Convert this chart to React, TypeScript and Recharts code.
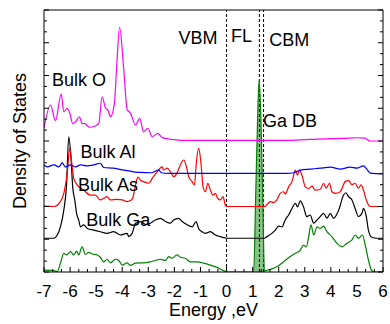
import React from 'react';
import {
  ComposedChart,
  Line,
  Area,
  XAxis,
  YAxis,
  ReferenceLine,
  ReferenceDot,
} from 'recharts';

// ---------- data ----------
const energyO = [-7.0, -6.75, -6.56, -6.34, -6.24, -6.11, -6.01, -5.9, -5.79, -5.64, -5.54, -5.44, -5.26, -5.03, -4.9, -4.77, -4.64, -4.54, -4.45, -4.3, -4.22, -4.1, -3.94, -3.81, -3.69, -3.49, -3.33, -3.18, -3.02, -2.85, -2.64, -2.47, -2.28, -2.0, -1.77, 2.5, 3.0, 3.5, 4.0, 4.5, 5.0, 5.3, 5.5, 6.0];
const dosO = [4.39, 5.1, 4.62, 5.43, 4.89, 5.0, 4.85, 4.53, 4.59, 4.74, 4.53, 4.54, 4.42, 4.46, 4.54, 5.35, 5.0, 4.93, 4.74, 5.15, 6.17, 7.47, 6.17, 4.95, 4.86, 4.49, 4.69, 4.28, 4.39, 4.13, 4.23, 4.11, 4.07, 4.04, 4.02, 4.02, 4.04, 4.06, 4.07, 4.08, 4.1, 4.09, 4.0, 4.0];

const energyAl = [-7.0, -6.88, -6.62, -6.43, -6.3, -6.18, -5.98, -5.79, -5.6, -5.34, -5.09, -4.84, -4.71, -4.33, -3.94, -3.56, -3.3, -2.9, -2.6, -2.5, -2.2, 2.3, 2.57, 2.83, 3.21, 3.59, 3.98, 4.36, 4.74, 5.0, 5.25, 5.38, 5.51, 6.0];
const dosAl = [3.27, 3.21, 3.27, 3.21, 3.33, 3.21, 3.27, 3.21, 3.27, 3.24, 3.27, 3.32, 3.19, 3.17, 3.11, 3.06, 3.04, 3.03, 3.11, 3.03, 3.01, 3.01, 3.03, 3.11, 3.14, 3.17, 3.2, 3.14, 3.2, 3.17, 3.24, 3.14, 3.02, 3.0];

const energyAs = [-7.0, -6.62, -6.37, -6.24, -6.11, -6.01, -5.92, -5.86, -5.73, -5.48, -5.22, -5.03, -4.84, -4.71, -4.58, -4.45, -4.2, -4.0, -3.81, -3.69, -3.6, -3.5, -3.4, -3.3, -3.18, -2.98, -2.85, -2.66, -2.47, -2.41, -2.28, -2.15, -2.03, -1.9, -1.77, -1.64, -1.54, -1.45, -1.32, -1.23, -1.16, -1.07, -0.98, -0.9, -0.81, -0.72, -0.62, -0.52, -0.43, -0.34, -0.24, -0.13, -0.05, 0.02, 1.49, 1.55, 1.68, 1.81, 1.93, 2.06, 2.19, 2.25, 2.38, 2.51, 2.64, 2.72, 2.8, 2.89, 3.02, 3.15, 3.28, 3.4, 3.59, 3.72, 3.82, 3.95, 4.04, 4.17, 4.36, 4.55, 4.68, 4.81, 4.93, 5.06, 5.16, 5.25, 5.38, 5.51, 6.0];
const dosAs = [2.01, 2.0, 2.15, 2.4, 3.02, 3.78, 3.22, 2.86, 2.66, 2.5, 2.35, 2.35, 2.2, 2.25, 2.3, 2.2, 2.22, 2.2, 2.15, 2.18, 2.25, 2.62, 2.9, 2.8, 2.76, 2.71, 2.86, 3.06, 3.21, 3.11, 3.17, 3.06, 2.91, 3.02, 3.27, 3.42, 3.22, 2.91, 2.76, 2.66, 3.32, 3.78, 3.32, 2.6, 2.45, 2.71, 2.5, 2.35, 2.4, 2.25, 2.2, 2.3, 2.05, 2.0, 2.0, 2.06, 2.15, 2.12, 2.2, 2.4, 2.45, 2.38, 2.6, 2.76, 3.11, 2.96, 3.11, 2.96, 2.6, 2.55, 2.62, 2.5, 2.52, 2.71, 2.56, 2.71, 2.45, 2.4, 2.45, 2.76, 2.79, 2.66, 2.71, 2.56, 2.66, 2.5, 2.15, 2.0, 2.0];

const energyGa = [-7.0, -6.62, -6.49, -6.37, -6.24, -6.14, -6.05, -5.96, -5.9, -5.82, -5.75, -5.67, -5.6, -5.48, -5.34, -5.09, -4.84, -4.58, -4.33, -4.07, -3.81, -3.75, -3.62, -3.49, -3.3, -3.1, -2.92, -2.73, -2.54, -2.34, -2.15, -2.03, -1.84, -1.7, -1.51, -1.32, -1.17, -1.07, -0.94, -0.81, -0.62, -0.43, -0.24, -0.05, 0.05, 1.45, 1.55, 1.74, 1.87, 2.0, 2.13, 2.25, 2.38, 2.51, 2.64, 2.72, 2.83, 2.95, 3.08, 3.21, 3.34, 3.47, 3.59, 3.72, 3.85, 3.98, 4.1, 4.3, 4.49, 4.58, 4.68, 4.81, 4.93, 5.06, 5.19, 5.25, 5.36, 5.44, 5.57, 5.76, 6.0];
const dosGa = [1.03, 1.03, 1.13, 1.38, 1.89, 2.6, 4.13, 3.42, 2.6, 2.2, 1.79, 1.59, 1.38, 1.44, 1.33, 1.28, 1.23, 1.18, 1.23, 1.13, 1.18, 1.08, 1.18, 1.49, 1.54, 1.45, 1.49, 1.59, 1.64, 1.54, 1.49, 1.59, 1.64, 1.54, 1.44, 1.38, 1.54, 1.33, 1.23, 1.18, 1.23, 1.13, 1.08, 1.04, 1.03, 1.03, 1.08, 1.18, 1.28, 1.4, 1.38, 1.59, 1.74, 1.94, 2.1, 1.99, 2.17, 1.99, 1.69, 1.74, 1.49, 1.59, 1.69, 1.79, 1.64, 1.79, 1.64, 1.89, 2.35, 2.42, 2.3, 2.2, 1.94, 1.69, 1.79, 1.94, 1.69, 1.28, 1.06, 1.03, 1.03];

const energyGreen = [-7.0, -6.62, -6.49, -6.37, -6.24, -6.14, -5.98, -5.86, -5.75, -5.67, -5.54, -5.41, -5.28, -5.15, -4.96, -4.84, -4.71, -4.58, -4.45, -4.26, -4.13, -4.0, -3.81, -3.69, -3.49, -3.3, -3.18, -2.92, -2.73, -2.54, -2.34, -2.22, -2.09, -1.9, -1.77, -1.58, -1.39, -1.13, -0.88, -0.62, -0.36, -0.17, -0.05, 0.0, 1.0, 1.04, 1.12, 1.19, 1.25, 1.32, 1.39, 1.45, 1.49, 1.68, 1.93, 2.19, 2.44, 2.64, 2.83, 2.95, 3.06, 3.15, 3.24, 3.34, 3.47, 3.59, 3.72, 3.85, 4.04, 4.23, 4.43, 4.62, 4.81, 4.93, 5.06, 5.21, 5.32, 5.44, 5.57, 5.7, 6.0];
const dosGreen = [0.06, 0.04, 0.01, 0.27, 0.57, 0.52, 0.62, 0.52, 0.64, 0.52, 0.77, 0.54, 0.6, 0.55, 0.52, 0.45, 0.31, 0.39, 0.28, 0.39, 0.35, 0.21, 0.28, 0.2, 0.27, 0.28, 0.28, 0.31, 0.35, 0.39, 0.35, 0.47, 0.42, 0.52, 0.45, 0.42, 0.31, 0.31, 0.27, 0.21, 0.14, 0.06, 0.02, 0.0, 0.0, 0.0, 2.4, 4.64, 5.86, 4.64, 2.2, 0.02, 0.04, 0.08, 0.16, 0.31, 0.47, 0.57, 0.67, 0.82, 0.77, 1.08, 1.44, 1.13, 1.38, 1.33, 1.4, 1.23, 1.08, 0.88, 0.77, 0.88, 0.98, 1.13, 1.03, 1.13, 0.82, 0.37, 0.04, 0.0, 0.0];

const energyGaDb = [1.04, 1.12, 1.19, 1.25, 1.32, 1.39, 1.45];
const dosGaDb = [0.0, 2.4, 4.64, 5.86, 4.64, 2.2, 0.02];

const levelNames = ['VBM', 'FL', 'CBM'];
const levelEnergies = [0, 1.26, 1.42];

const annotations = [
  { text: 'Bulk O', e: -6.69, v: 5.69 },
  { text: 'Bulk Al', e: -5.6, v: 3.47 },
  { text: 'Bulk As', e: -5.7, v: 2.48 },
  { text: 'Bulk Ga', e: -5.38, v: 1.4 },
  { text: 'VBM', e: -1.84, v: 6.96 },
  { text: 'FL', e: 0.17, v: 7.01 },
  { text: 'CBM', e: 1.64, v: 6.91 },
  { text: 'Ga DB', e: 1.4, v: 4.44 },
];

const xMajorTicks = [-7, -6, -5, -4, -3, -2, -1, 0, 1, 2, 3, 4, 5, 6];
const yMajorTicks = [0, 1, 2, 3, 4, 5, 6, 7, 8];
const xTicks = xMajorTicks.flatMap((t, i) => (i < xMajorTicks.length - 1 ? [t, t + 1 / 3, t + 2 / 3] : [t]));
const yTicks = yMajorTicks.flatMap((t, i) => (i < yMajorTicks.length - 1 ? [t, t + 1 / 3, t + 2 / 3] : [t]));

const toPoints = (es: number[], vs: number[]) => es.map((e, i) => ({ e, v: vs[i] }));

const FONT = '"Liberation Sans", Arial, Helvetica, sans-serif';
const isMajor = (v: number) => Math.abs(v - Math.round(v)) < 1e-6;

const BottomTick = (p: any) => {
  const { x, y, payload } = p;
  const major = isMajor(payload.value);
  return (
    <g>
      <line x1={x} x2={x} y1={y} y2={y - (major ? 5 : 3)} stroke="#000" strokeWidth={1} />
      {major && (
        <text x={x} y={y + 25} textAnchor="middle" fontSize={17} fontFamily={FONT} fill="#000">
          {Math.round(payload.value)}
        </text>
      )}
    </g>
  );
};
const TopTick = (p: any) => {
  const { x, y, payload } = p;
  const major = isMajor(payload.value);
  return <line x1={x} x2={x} y1={y} y2={y + (major ? 5 : 3)} stroke="#000" strokeWidth={1} />;
};
const LeftTick = (p: any) => {
  const { x, y, payload } = p;
  const major = isMajor(payload.value);
  return <line x1={x} x2={x + (major ? 5 : 3)} y1={y} y2={y} stroke="#000" strokeWidth={1} />;
};
const RightTick = (p: any) => {
  const { x, y, payload } = p;
  const major = isMajor(payload.value);
  return <line x1={x} x2={x - (major ? 5 : 3)} y1={y} y2={y} stroke="#000" strokeWidth={1} />;
};

const YLabel = (p: any) => {
  const vb = p.viewBox;
  const cx = vb.x + 26;
  const cy = vb.y + vb.height / 2;
  return (
    <text x={cx} y={cy} transform={`rotate(-90 ${cx} ${cy})`} textAnchor="middle" fontSize={18} fontFamily={FONT} fill="#000">
      Density of States
    </text>
  );
};
const XLabel = (p: any) => {
  const vb = p.viewBox;
  return (
    <text x={vb.x + vb.width / 2} y={vb.y + 44} textAnchor="middle" fontSize={18} fontFamily={FONT} fill="#000">
      Energy ,eV
    </text>
  );
};

export default function App() {
  return (
    <div style={{ position: 'absolute', left: 0, top: 0, width: 390, height: 324, background: '#fff' }}>
      <ComposedChart width={390} height={324} margin={{ top: 0, right: 0, bottom: 0, left: 0 }}>
        <XAxis
          xAxisId={0}
          type="number"
          dataKey="e"
          domain={[-7, 6]}
          ticks={xTicks}
          interval={0}
          allowDataOverflow
          height={52}
          tickSize={0}
          tickMargin={0}
          tickLine={false}
          axisLine={{ stroke: '#000' }}
          tick={<BottomTick />}
          label={XLabel}
        />
        <XAxis
          xAxisId="top"
          orientation="top"
          type="number"
          domain={[-7, 6]}
          ticks={xTicks}
          interval={0}
          allowDataOverflow
          height={10}
          tickSize={0}
          tickMargin={0}
          tickLine={false}
          axisLine={{ stroke: '#000' }}
          tick={<TopTick />}
        />
        <YAxis
          yAxisId={0}
          type="number"
          domain={[0, 8]}
          ticks={yTicks}
          interval={0}
          allowDataOverflow
          width={44}
          tickSize={0}
          tickMargin={0}
          tickLine={false}
          axisLine={{ stroke: '#000' }}
          tick={<LeftTick />}
          label={YLabel}
        />
        <YAxis
          yAxisId="right"
          orientation="right"
          type="number"
          domain={[0, 8]}
          ticks={yTicks}
          interval={0}
          allowDataOverflow
          width={7}
          tickSize={0}
          tickMargin={0}
          tickLine={false}
          axisLine={{ stroke: '#000' }}
          tick={<RightTick />}
        />

        {levelEnergies.map((e, i) => (
          <ReferenceLine key={levelNames[i]} x={e} stroke="#000" strokeWidth={1} strokeDasharray="3 2" />
        ))}

        <Area
          data={toPoints(energyGaDb, dosGaDb)}
          dataKey="v"
          type="monotone"
          stroke="none"
          fill="#86c486"
          fillOpacity={1}
          isAnimationActive={false}
          dot={false}
          activeDot={false}
        />
        <Line data={toPoints(energyGreen, dosGreen)} dataKey="v" type="monotone" stroke="#008000" strokeWidth={1.2} dot={false} activeDot={false} isAnimationActive={false} />
        <Line data={toPoints(energyGa, dosGa)} dataKey="v" type="monotone" stroke="#000000" strokeWidth={1.2} dot={false} activeDot={false} isAnimationActive={false} />
        <Line data={toPoints(energyAs, dosAs)} dataKey="v" type="monotone" stroke="#ff0000" strokeWidth={1.2} dot={false} activeDot={false} isAnimationActive={false} />
        <Line data={toPoints(energyAl, dosAl)} dataKey="v" type="monotone" stroke="#0000ff" strokeWidth={1.2} dot={false} activeDot={false} isAnimationActive={false} />
        <Line data={toPoints(energyO, dosO)} dataKey="v" type="monotone" stroke="#ff00ff" strokeWidth={1.2} dot={false} activeDot={false} isAnimationActive={false} />

        {annotations.map((a) => (
          <ReferenceDot
            key={a.text}
            x={a.e}
            y={a.v}
            r={0}
            fill="none"
            stroke="none"
            label={(p: any) => (
              <text x={p.viewBox.x} y={p.viewBox.y} fontSize={18} fontFamily={FONT} fill="#000">
                {a.text}
              </text>
            )}
          />
        ))}
      </ComposedChart>
    </div>
  );
}
